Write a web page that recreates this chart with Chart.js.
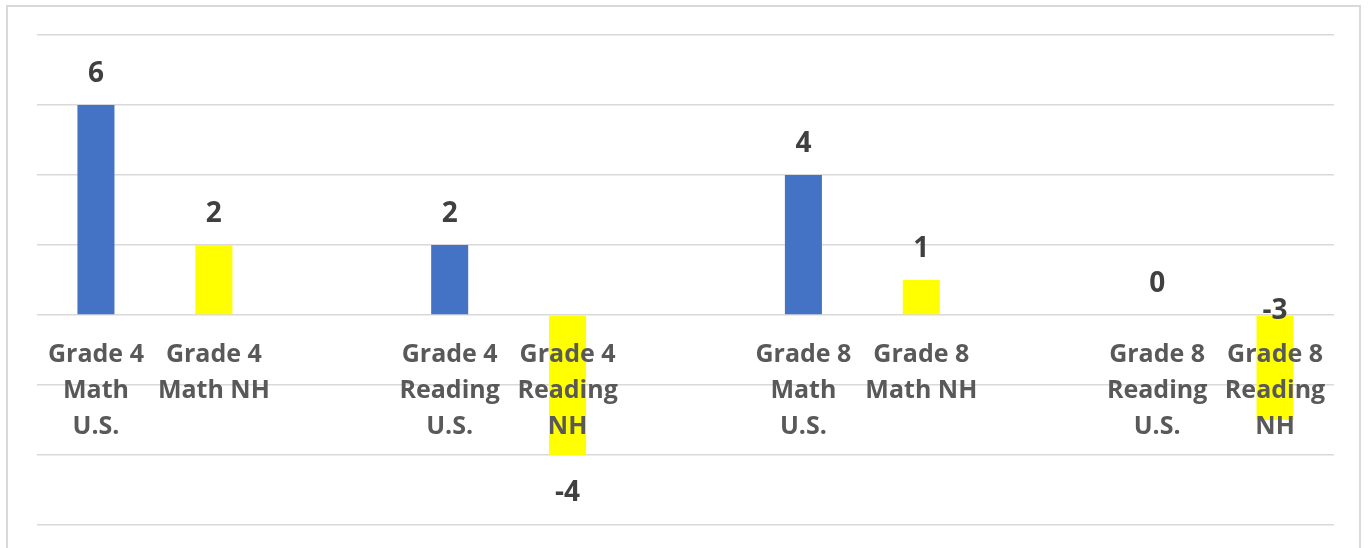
<!DOCTYPE html>
<html>
<head>
<meta charset="utf-8">
<script src="https://cdn.jsdelivr.net/npm/chart.js@4"></script>
<style>
  html, body { margin: 0; padding: 0; background: #fff; }
  #wrap { position: relative; width: 1370px; height: 548px; overflow: hidden; }
  #frame { position: absolute; left: 6px; top: 5px; width: 1355px; height: 560px; border: 2px solid #d9d9d9; box-sizing: border-box; pointer-events: none; }
  canvas { position: absolute; left: 0; top: 0; }
</style>
</head>
<body>
<div id="wrap">
  <canvas id="c" width="1370" height="548"></canvas>
  <div id="frame"></div>
</div>
<script>
const categories = [
  ['Grade 4', 'Math', 'U.S.'],
  ['Grade 4', 'Math NH'],
  '',
  ['Grade 4', 'Reading', 'U.S.'],
  ['Grade 4', 'Reading', 'NH'],
  '',
  ['Grade 8', 'Math', 'U.S.'],
  ['Grade 8', 'Math NH'],
  '',
  ['Grade 8', 'Reading', 'U.S.'],
  ['Grade 8', 'Reading', 'NH']
];
const values = [6, 2, null, 2, -4, null, 4, 1, null, 0, -3];
const yMin = -6, yMax = 8, yStep = 2;

const BLUE = '#4472C4', YELLOW = '#FFFF00';
const barColors = [BLUE, YELLOW, null, BLUE, YELLOW, null, BLUE, YELLOW, null, BLUE, YELLOW];
// label anchor: 'end' = outside bar end, 'base' = at the zero line
const labelAnchor = ['end', 'end', null, 'end', 'end', null, 'end', 'end', null, 'end', 'base'];

const FONT = '"Open Sans"';

const valueLabels = {
  id: 'valueLabels',
  afterDatasetsDraw(chart) {
    const ctx = chart.ctx;
    const meta = chart.getDatasetMeta(0);
    ctx.save();
    ctx.font = 'bold 28px ' + FONT;
    ctx.fillStyle = '#404040';
    ctx.textAlign = 'center';
    ctx.textBaseline = 'middle';
    meta.data.forEach((bar, i) => {
      const v = values[i];
      if (v === null || v === undefined) return;
      let y;
      if (labelAnchor[i] === 'base') {
        y = bar.base - 5;
      } else if (v >= 0) {
        y = bar.y - 31;
      } else {
        y = bar.y + 38;
      }
      ctx.fillText(String(v), bar.x, y);
    });
    ctx.restore();
  }
};

new Chart(document.getElementById('c'), {
  type: 'bar',
  data: {
    labels: categories,
    datasets: [{
      data: values,
      backgroundColor: barColors,
      borderWidth: 0,
      categoryPercentage: 1,
      barPercentage: 0.314
    }]
  },
  options: {
    responsive: false,
    animation: false,
    events: [],
    layout: { padding: { left: 37, right: 36, top: 35, bottom: 23 } },
    plugins: { legend: { display: false }, tooltip: { enabled: false } },
    scales: {
      x: {
        position: { y: 0 },
        grid: { display: false, drawTicks: false },
        border: { display: false },
        ticks: {
          z: 1,
          autoSkip: false,
          maxRotation: 0,
          minRotation: 0,
          padding: 22,
          color: '#595959',
          font: { family: FONT, weight: 'bold', size: 25, lineHeight: '36px' }
        }
      },
      y: {
        min: yMin,
        max: yMax,
        ticks: { display: false, stepSize: yStep },
        grid: { color: '#d9d9d9', lineWidth: 1.5, drawTicks: false },
        border: { display: false },
        afterFit(scale) { scale.width = 0; }
      }
    }
  },
  plugins: [valueLabels]
});
</script>
</body>
</html>
